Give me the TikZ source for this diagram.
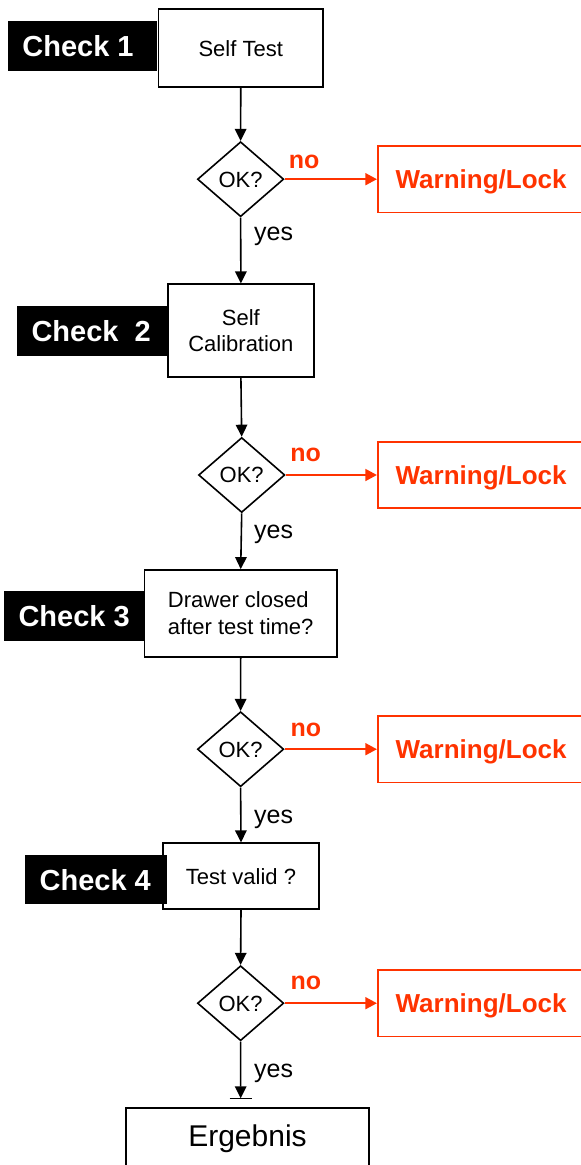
\documentclass[tikz,border=0pt]{standalone}
\usepackage{fontspec}
\setmainfont{Liberation Sans}
\usetikzlibrary{shapes.geometric,arrows.meta}
\definecolor{wlred}{RGB}{255,51,0}
\begin{document}
\begin{tikzpicture}[x=1pt,y=-1pt,
  box/.style={draw=black, line width=1.8pt, fill=white, inner sep=0pt, font=\fontsize{22}{26.5}\selectfont, align=center},
  chk/.style={fill=black, text=white, inner sep=0pt, font=\fontsize{29}{34}\selectfont\bfseries, text height=20.8pt, text depth=0pt},
  dec/.style={diamond, draw=black, line width=1.6pt, inner sep=0pt, minimum width=86.3pt, minimum height=75pt, font=\fontsize{22}{26}\selectfont, text height=15.75pt, text depth=0pt},
  wl/.style={draw=wlred, line width=1.8pt, text=wlred, inner sep=0pt, font=\fontsize{26}{31}\selectfont\bfseries, text height=18.6pt, text depth=0pt, minimum height=66.5pt},
  flow/.style={line width=1.6pt, -{Triangle[width=11.5pt,length=12pt]}},
  noarr/.style={line width=1.6pt, draw=wlred, -{Triangle[width=12pt,length=11.5pt]}},
  nolab/.style={text=wlred, font=\fontsize{25}{30}\selectfont\bfseries, inner sep=0pt, anchor=base west},
  yeslab/.style={font=\fontsize{25}{30}\selectfont, inner sep=0pt, anchor=base west},
]
\path[use as bounding box] (0,0) rectangle (581,1165);
\clip (0,0) rectangle (581,1165);

% process boxes
\node[box, minimum width=164.5pt, minimum height=78pt] (box1) at (240.75,48.3) {Self Test};
\node[box, minimum width=146.2pt, minimum height=92.4pt] (box2) at (240.9,330.5) {Self\\Calibration};
\node[box, minimum width=192.6pt, minimum height=86.7pt, align=left] (box3) at (240.7,613.35) {Drawer closed\\after test time?};
\node[box, minimum width=156pt, minimum height=66pt] (box4) at (241,876.3) {Test valid ?};
\node[box, minimum width=243pt, minimum height=60.3pt, font=\fontsize{30}{36}\selectfont, text height=21.5pt, text depth=4pt] (erg) at (247.5,1137.85) {Ergebnis};

% check labels
\node[chk, minimum height=49.7pt] (chk1) at (82.55,45.85) {\makebox[148.9pt][l]{\hspace{14.3pt}Check 1}};
\node[chk, minimum height=49.7pt] (chk2) at (92.2,330.85) {\makebox[150.4pt][l]{\hspace{14.5pt}Check~~2}};
\node[chk, minimum height=49.4pt] (chk3) at (74.2,616) {\makebox[140.4pt][l]{\hspace{14.5pt}Check 3}};
\node[chk, minimum height=49.3pt] (chk4) at (95.75,879.65) {\makebox[141.9pt][l]{\hspace{14.8pt}Check 4}};

% decisions
\node[dec] (d1) at (240.6,179.2) {OK?};
\node[dec] (d2) at (241.7,475) {OK?};
\node[dec] (d3) at (240.6,749.2) {OK?};
\node[dec] (d4) at (240.6,1003.2) {OK?};

% warning boxes
\node[wl] (wl1) at (488.9,179.2) {\makebox[222.2pt][l]{\hspace{17.8pt}Warning/Lock}};
\node[wl] (wl2) at (488.9,475) {\makebox[222.2pt][l]{\hspace{17.8pt}Warning/Lock}};
\node[wl] (wl3) at (488.9,749.2) {\makebox[222.2pt][l]{\hspace{17.8pt}Warning/Lock}};
\node[wl] (wl4) at (488.9,1003.2) {\makebox[222.2pt][l]{\hspace{17.8pt}Warning/Lock}};

\coordinate (tip) at (240.7,1098.3);

% main flow
\draw[flow] (box1.south) -- (d1.north);
\draw[flow] (d1.south) -- (box2.north);
\draw[flow] (box2.south) -- (d2.north);
\draw[flow] (d2.south) -- (box3.north);
\draw[flow] (box3.south) -- (d3.north);
\draw[flow] (d3.south) -- (box4.north);
\draw[flow] (box4.south) -- (d4.north);
\draw[flow] (d4.south) -- (tip);
\draw[line width=1.6pt] ([xshift=-11pt]tip) -- ([xshift=11pt]tip);

% no branches
\draw[noarr] (d1.east) -- (wl1.west) node[nolab, pos=0, xshift=3.4pt, yshift=11pt] {no};
\draw[noarr] (d2.east) -- (wl2.west) node[nolab, pos=0, xshift=4pt, yshift=13.3pt] {no};
\draw[noarr] (d3.east) -- (wl3.west) node[nolab, pos=0, xshift=5.3pt, yshift=13.2pt] {no};
\draw[noarr] (d4.east) -- (wl4.west) node[nolab, pos=0, xshift=5.3pt, yshift=14.2pt] {no};

% yes labels
\node[yeslab] (y1) at (254,240) {yes};
\node[yeslab] (y2) at (254,538) {yes};
\node[yeslab] (y3) at (254,823.3) {yes};
\node[yeslab] (y4) at (254,1077.7) {yes};
\end{tikzpicture}
\end{document}
